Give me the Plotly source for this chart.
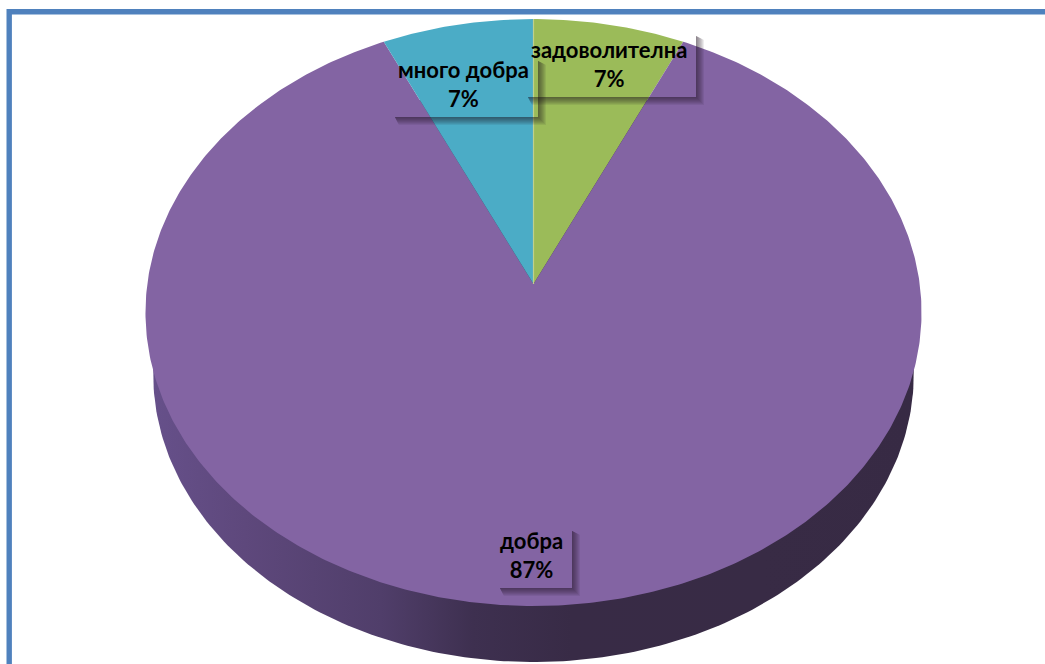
import numpy as np
import plotly.graph_objects as go

categories = ["задоволителна", "добра", "много добра"]
values = [7, 87, 7]
slice_colors = ["#9BBB59", "#8364A3", "#4BACC6"]
label_centers = [(608.5, 63.5), (531, 555), (463, 84)]
label_boxes = [(523, 30, 696, 97), (495, 525, 572, 588), (390, 55, 538, 117)]
FONT = "Lato, 'Noto Sans', sans-serif"

# Projection of the pie disc to the page (perspective, tilted).
APEX = (533.5, 284.0)
A, B, P = 386.2, 290.7, 0.0971


def project(theta, scale=1.0, dy=0.0):
    w = 1 + P * np.cos(theta)
    return (APEX[0] + scale * A * np.sin(theta) / w,
            APEX[1] - scale * B * np.cos(theta) / w + dy)


fig = go.Figure()

# Side wall
t = np.linspace(0, 2 * np.pi, 400)
wx, wy = project(t, 0.98, 62.5)
fig.add_trace(go.Scatter(
    x=wx, y=wy, mode="lines", line=dict(width=0), fill="toself",
    fillcolor="#372A45",
    fillgradient=dict(type="horizontal", colorscale=[
        [0.0, "#66508A"], [0.12, "#5E487C"], [0.3, "#503E6A"], [0.42, "#3E3050"],
        [0.55, "#382B46"], [0.8, "#382B45"], [1.0, "#372A44"]]),
    hoverinfo="skip", showlegend=False))

# Top face slices
total = sum(values)
start = 0.0
for cat, val, col in zip(categories, values, slice_colors):
    end = start + val / total * 2 * np.pi
    th = np.linspace(start, end, max(int(val * 6), 30))
    x, y = project(th)
    fig.add_trace(go.Scatter(
        x=np.r_[APEX[0], x, APEX[0]], y=np.r_[APEX[1], y, APEX[1]],
        mode="lines", line=dict(width=0, color=col), fill="toself", fillcolor=col,
        name=cat, hoverinfo="name", showlegend=False))
    start = end

# Pale seam at the top of the pie
sx, sy = project(0.0)
fig.add_trace(go.Scatter(x=[APEX[0], sx], y=[APEX[1], sy], mode="lines",
                         line=dict(width=1.2, color="#BFD08F"),
                         hoverinfo="skip", showlegend=False))

# Label shadows: stacked translucent L-shapes along the right and bottom edges
shapes = []
for (x0, y0, x1, y1) in label_boxes:
    for i in range(1, 9):
        path = (f"M {x1} {y0 + 6} L {x1 + i} {y0 + 6 + i / 2} L {x1 + i} {y1 + i} "
                f"L {x0 + 5 + i / 2} {y1 + i} L {x0 + 5} {y1} L {x1} {y1} Z")
        shapes.append(dict(type="path", path=path, line=dict(width=0),
                           fillcolor="rgba(20,15,30,0.08)", layer="above"))

# Frame
shapes.append(dict(type="rect", x0=9.2, y0=11.7, x1=1080, y1=720,
                   line=dict(color="#4F81BD", width=5.4), layer="above"))

annotations = []
for cat, val, (cx, cy) in zip(categories, values, label_centers):
    annotations.append(dict(
        x=cx, y=cy, text=f"<b>{cat}<br>{val}%</b>", showarrow=False,
        font=dict(family=FONT, size=22, color="#000000"),
        align="center", xanchor="center", yanchor="middle"))

fig.update_layout(
    width=1045, height=664, margin=dict(l=0, r=0, t=0, b=0),
    paper_bgcolor="#FFFFFF", plot_bgcolor="#FFFFFF", showlegend=False,
    xaxis=dict(range=[0, 1045], visible=False, fixedrange=True),
    yaxis=dict(range=[664, 0], visible=False, fixedrange=True),
    shapes=shapes, annotations=annotations)

fig.write_html("out.html", config={"displayModeBar": False},
               post_script="document.body.style.margin='0';document.body.style.overflow='hidden';")
